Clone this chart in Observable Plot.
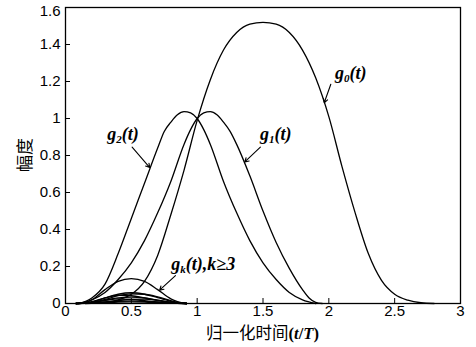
<!DOCTYPE html>
<html><head><meta charset="utf-8">
<script src="https://cdn.jsdelivr.net/npm/d3@7"></script>
<script src="https://cdn.jsdelivr.net/npm/@observablehq/plot@0.6"></script>
<style>body{margin:0;background:#fff;overflow:hidden}</style>
</head><body><div id="chart"></div>
<script>
// ---- tick labels / axes ----
const xTicks = [0, 0.5, 1, 1.5, 2, 2.5, 3];
const yTicks = [0, 0.2, 0.4, 0.6, 0.8, 1, 1.2, 1.4];
const yTopTick = [1.6];
const xLabelCJK = "归一化时间";
const yLabel = "幅度";

// ---- g0(t) ----
const g0T = [0.15, 0.3, 0.4, 0.5, 0.6, 0.7, 0.8, 0.9, 1.0, 1.1, 1.2, 1.3, 1.4, 1.5, 1.6, 1.7, 1.8, 1.9, 2.0, 2.1, 2.2, 2.3, 2.4, 2.5, 2.6, 2.7, 2.8];
const g0V = [0, 0.006, 0.02, 0.05, 0.12, 0.26, 0.48, 0.72, 0.99, 1.21, 1.37, 1.465, 1.51, 1.52, 1.51, 1.465, 1.37, 1.22, 1.01, 0.74, 0.49, 0.27, 0.125, 0.05, 0.018, 0.004, 0];

// ---- g1(t) ----
const g1T = [0.1, 0.2, 0.3, 0.4, 0.5, 0.6, 0.7, 0.8, 0.9, 0.95, 1.0, 1.05, 1.1, 1.15, 1.2, 1.25, 1.3, 1.4, 1.5, 1.6, 1.7, 1.8, 1.85, 1.9, 1.95];
const g1V = [0, 0.02, 0.06, 0.13, 0.22, 0.34, 0.49, 0.66, 0.86, 0.94, 1.0, 1.03, 1.037, 1.02, 0.98, 0.93, 0.86, 0.69, 0.5, 0.33, 0.19, 0.075, 0.03, 0.006, 0];

// ---- g2(t) ----
const g2T = [0.1, 0.2, 0.3, 0.4, 0.5, 0.6, 0.7, 0.75, 0.8, 0.85, 0.9, 0.95, 1.0, 1.05, 1.1, 1.2, 1.3, 1.4, 1.5, 1.6, 1.7, 1.8, 1.9];
const g2V = [0, 0.03, 0.105, 0.27, 0.46, 0.65, 0.84, 0.93, 0.98, 1.02, 1.037, 1.03, 1.0, 0.94, 0.86, 0.66, 0.49, 0.34, 0.22, 0.13, 0.06, 0.02, 0];

// ---- g_k(t), k>=3 ----
const gkT = [0.08, 0.15, 0.2, 0.3, 0.4, 0.5, 0.6, 0.7, 0.8, 0.85, 0.92];
const g3V  = [0, 0.005, 0.02, 0.075, 0.12, 0.135, 0.12, 0.075, 0.025, 0.01, 0];
const g4V  = [0, 0.003, 0.008, 0.03, 0.05, 0.058, 0.05, 0.032, 0.012, 0.005, 0];
const g5V  = [0, 0.002, 0.006, 0.022, 0.042, 0.052, 0.05, 0.036, 0.015, 0.006, 0];
const g6V  = [0, 0.004, 0.01, 0.03, 0.044, 0.042, 0.03, 0.016, 0.005, 0.002, 0];
const g7V  = [0, 0.002, 0.005, 0.018, 0.03, 0.035, 0.03, 0.018, 0.006, 0.002, 0];
const g8V  = [0, 0.002, 0.005, 0.016, 0.025, 0.022, 0.015, 0.008, 0.003, 0.001, 0];
const g9V  = [0, 0.001, 0.003, 0.009, 0.016, 0.022, 0.024, 0.017, 0.007, 0.003, 0];
const g10V = [0, 0.001, 0.002, 0.007, 0.012, 0.014, 0.012, 0.007, 0.002, 0.001, 0];
const g11V = [0, 0.001, 0.002, 0.005, 0.008, 0.009, 0.008, 0.005, 0.002, 0.001, 0];

// ---- annotations ----
const annSub  = ["0", "1", "2", "k"];
const annTail = ["(t)", "(t)", "(t)", "(t),k≥3"];
const annX = [2.17, 1.60, 0.44, 1.05];
const annY = [1.23, 0.905, 0.905, 0.20];
const arrX1 = [2.015, 1.48, 0.506, 0.835];
const arrY1 = [1.185, 0.845, 0.845, 0.151];
const arrX2 = [1.965, 1.362, 0.64, 0.715];
const arrY2 = [1.085, 0.765, 0.735, 0.072];

// build rows
const series = [
  ["g0", g0T, g0V], ["g1", g1T, g1V], ["g2", g2T, g2V],
  ["g3", gkT, g3V], ["g4", gkT, g4V], ["g5", gkT, g5V], ["g6", gkT, g6V],
  ["g7", gkT, g7V], ["g8", gkT, g8V], ["g9", gkT, g9V], ["g10", gkT, g10V], ["g11", gkT, g11V]
];
const rows = series.flatMap(([s, T, V]) => T.map((t, i) => ({s, t, v: V[i]})));
const arrows = arrX1.map((x1, i) => ({x1, y1: arrY1[i], x2: arrX2[i], y2: arrY2[i]}));

const plot = Plot.plot({
  width: 476, height: 347,
  marginLeft: 65, marginRight: 16, marginTop: 7, marginBottom: 44,
  style: {fontFamily: "'Liberation Sans', Arial, sans-serif", fontSize: "15px", background: "#fff", color: "#000"},
  x: {domain: [0, 3]},
  y: {domain: [0, 1.6]},
  marks: [
    Plot.axisX({ticks: xTicks, tickSize: -5, tickPadding: 7, label: null, tickFormat: d => String(d)}),
    Plot.axisY({ticks: yTicks, tickSize: -5, tickPadding: 10, label: null, tickFormat: d => String(d)}),
    Plot.axisY({ticks: yTopTick, tickSize: 0, tickPadding: 5, label: null, dy: 4, tickFormat: d => String(d)}),
    Plot.line(rows, {x: "t", y: "v", z: "s", curve: "monotone-x", stroke: "#000", strokeWidth: 1.3}),
    Plot.arrow(arrows, {x1: "x1", y1: "y1", x2: "x2", y2: "y2", stroke: "#000", strokeWidth: 1.1, headLength: 6}),
    Plot.frame({stroke: "#000", strokeWidth: 1.3})
  ]
});
document.getElementById("chart").appendChild(plot);

const sx = plot.scale("x"), sy = plot.scale("y");
const svg = d3.select(plot);

// annotation labels
annSub.forEach((sub, i) => {
  const t = svg.append("text")
    .attr("x", sx.apply(annX[i])).attr("y", sy.apply(annY[i]))
    .attr("text-anchor", "middle").attr("dominant-baseline", "middle")
    .style("font-family", "'Liberation Serif', 'Times New Roman', serif")
    .style("font-style", "italic").style("font-weight", "bold").style("font-size", "18px");
  t.append("tspan").text("g");
  t.append("tspan").attr("dy", 4).style("font-size", "11px").text(sub);
  t.append("tspan").attr("dy", -4).text(annTail[i]);
});

// x-axis label
const xl = svg.append("text")
  .attr("x", (sx.apply(0) + sx.apply(3)) / 2).attr("y", 339)
  .attr("text-anchor", "middle").style("font-size", "16.5px");
xl.append("tspan").style("font-family", "'Noto Sans CJK SC', sans-serif").text(xLabelCJK);
const xlp = xl.append("tspan").style("font-family", "'Liberation Serif', serif").style("font-weight", "bold");
xlp.append("tspan").text("(");
xlp.append("tspan").style("font-style", "italic").text("t");
xlp.append("tspan").text("/");
xlp.append("tspan").style("font-style", "italic").text("T");
xlp.append("tspan").text(")");

// y-axis label
svg.append("text")
  .attr("transform", `translate(31,${(sy.apply(0) + sy.apply(1.6)) / 2}) rotate(-90)`)
  .attr("text-anchor", "middle")
  .style("font-family", "'Noto Sans CJK SC', sans-serif").style("font-size", "17px")
  .text(yLabel);
</script>
</body></html>
